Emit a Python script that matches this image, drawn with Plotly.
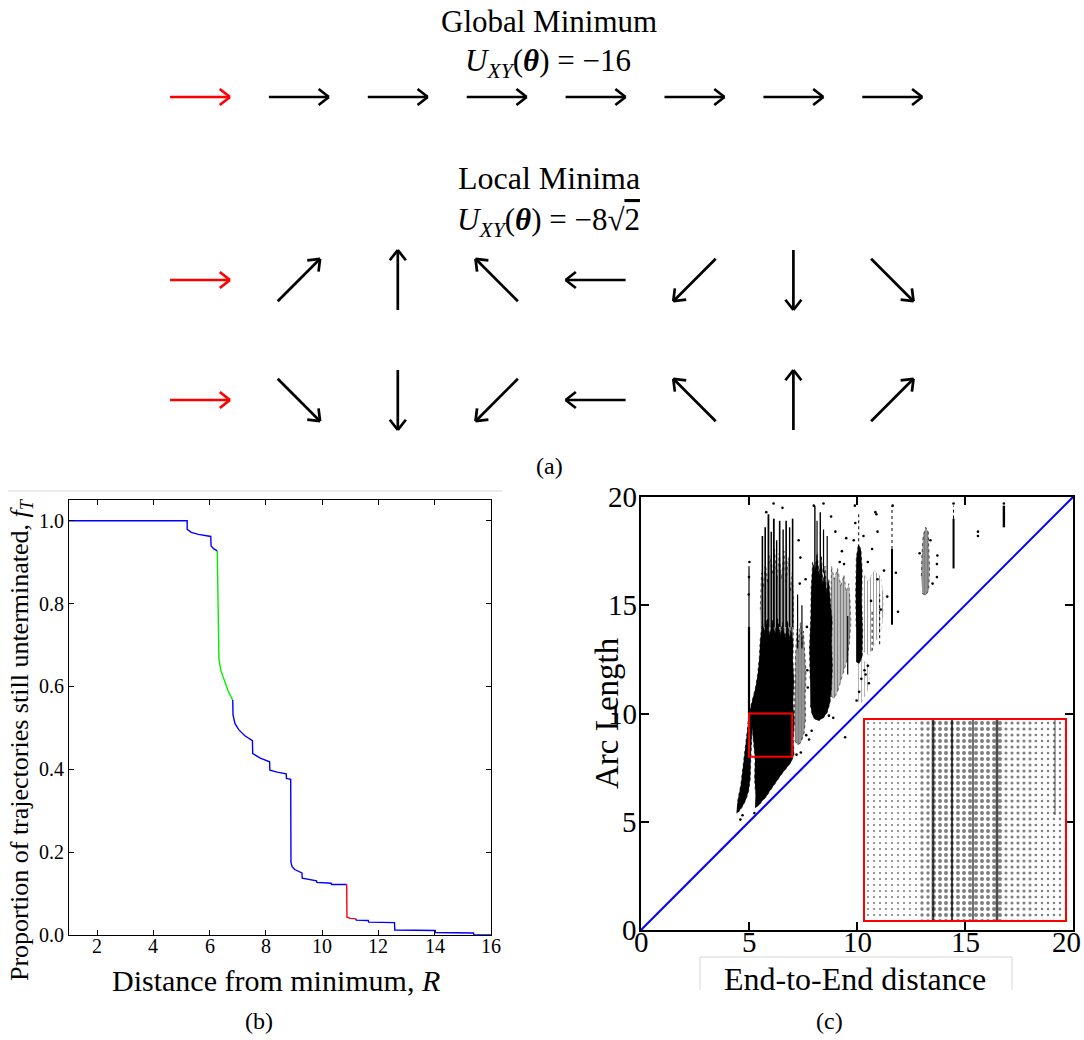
import numpy as np
import plotly.graph_objects as go

W, H = 1084, 1040
SERIF = "Liberation Serif"

# ---------------- (a) XY-model spin configurations (angles in degrees)
spins_global = [0, 0, 0, 0, 0, 0, 0, 0]
spins_local_a = [0, 45, 90, 135, 180, 225, 270, 315]
spins_local_b = [0, -45, -90, -135, 180, 135, 90, 45]
energy_global = "−16"
energy_local = "−8√2"

# ---------------- (b) proportion of trajectories still unterminated, f_T(R)
r_blue1 = [1.0, 5.20, 5.20, 5.35, 5.60, 6.04, 6.05, 6.15, 6.27]
f_blue1 = [1.0, 1.0, 0.979, 0.972, 0.967, 0.962, 0.939, 0.932, 0.927]
r_green = [6.27, 6.29, 6.30, 6.33, 6.40, 6.51, 6.65, 6.82]
f_green = [0.927, 0.80, 0.70, 0.665, 0.638, 0.615, 0.59, 0.567]
r_blue2 = [6.82, 6.83, 6.90, 7.04, 7.25, 7.52, 7.53, 7.80, 8.13, 8.14, 8.40,
           8.72, 8.73, 8.88, 8.89, 8.93, 9.02, 9.15, 9.28, 9.29, 9.80, 9.81,
           10.32, 10.33, 10.87]
f_blue2 = [0.567, 0.531, 0.51, 0.495, 0.481, 0.469, 0.438, 0.427, 0.418, 0.398,
           0.393, 0.389, 0.378, 0.376, 0.175, 0.165, 0.158, 0.153, 0.150, 0.137,
           0.131, 0.127, 0.125, 0.122, 0.122]
r_red = [10.87, 10.88, 11.0, 11.20]
f_red = [0.122, 0.043, 0.040, 0.039]
r_blue3 = [11.20, 11.21, 11.64, 11.65, 12.57, 12.58, 14.02, 14.03, 15.38, 15.39, 16.0]
f_blue3 = [0.039, 0.036, 0.035, 0.031, 0.030, 0.012, 0.011, 0.006, 0.005, 0.0, 0.0]
b_xticks = [2, 4, 6, 8, 10, 12, 14, 16]
b_yticks = [0.0, 0.2, 0.4, 0.6, 0.8, 1.0]

# ---------------- (c) arc length vs end-to-end distance
# outlines of the dense parts of the point cloud, with their point density
cloud_main_x = [5.28, 5.45, 5.60, 5.80, 5.95, 6.15, 6.35, 6.55, 6.75, 6.95, 7.08, 7.05, 7.10,
                7.04, 7.08, 7.03, 7.05, 6.95, 6.88, 6.78, 6.68, 6.55, 6.45, 6.32, 6.20,
                6.08, 5.95, 5.85, 5.72, 5.62, 5.52, 5.48, 5.40, 5.30, 5.15, 5.05, 5.15,
                5.22, 5.28, 5.26, 5.30]
cloud_main_y = [5.65, 5.75, 5.95, 6.15, 6.40, 6.70, 6.95, 7.25, 7.50, 7.75, 8.10, 8.8, 9.6,
                10.5, 11.5, 12.5, 13.2, 14.0, 13.4, 14.3, 13.5, 14.2, 13.6, 14.4, 13.7,
                14.3, 13.6, 14.4, 13.8, 14.2, 13.4, 12.6, 11.8, 11.2, 10.6, 10.2, 9.3,
                8.6, 7.9, 7.0, 6.3]
cloud_lobe_x = [4.42, 4.55, 4.70, 4.85, 4.98, 5.06, 5.08, 5.12, 5.15, 5.05, 4.98, 4.92,
                4.85, 4.78, 4.70, 4.62, 4.52, 4.45]
cloud_lobe_y = [5.40, 5.50, 5.70, 6.00, 6.40, 7.00, 7.80, 8.60, 9.40, 10.2, 9.9, 9.2,
                8.6, 7.9, 7.3, 6.7, 6.2, 5.8]
cloud_upper_x = [5.55, 7.05, 7.06, 7.00, 6.92, 6.82, 6.72, 6.62, 6.50, 6.40, 6.30, 6.18,
                 6.08, 5.96, 5.86, 5.76, 5.66, 5.58, 5.52]
cloud_upper_y = [13.5, 13.2, 15.2, 16.5, 15.6, 17.2, 16.0, 17.5, 16.2, 17.4, 16.1, 17.6,
                 16.4, 17.3, 16.0, 17.0, 15.8, 16.5, 14.8]
cloud_2_x = [7.12, 7.25, 7.40, 7.55, 7.62, 7.60, 7.64, 7.58, 7.52, 7.45, 7.38, 7.30, 7.22,
             7.15, 7.13, 7.10]
cloud_2_y = [8.75, 8.55, 8.65, 9.10, 9.80, 10.8, 11.8, 12.8, 13.8, 13.2, 14.2, 13.3, 13.9,
             12.6, 11.2, 9.8]
cloud_3_x = [7.84, 7.92, 8.05, 8.25, 8.45, 8.62, 8.75, 8.82, 8.86, 8.82, 8.85, 8.76, 8.70,
             8.58, 8.52, 8.42, 8.35, 8.25, 8.15, 8.05, 7.95, 7.88, 7.86, 7.80, 7.83]
cloud_3_y = [10.4, 9.95, 9.72, 9.68, 9.80, 10.05, 10.5, 11.2, 12.2, 13.3, 14.3, 15.2, 16.2,
             15.6, 16.8, 16.0, 17.3, 16.4, 17.4, 16.6, 17.0, 15.8, 14.5, 13.0, 11.5]
cloud_3b_x = [8.80, 8.95, 9.10, 9.25, 9.40, 9.55, 9.65, 9.72, 9.68, 9.62, 9.50, 9.40, 9.25,
              9.10, 8.95, 8.82, 8.78]
cloud_3b_y = [10.8, 10.7, 11.0, 11.5, 11.9, 12.5, 13.3, 14.2, 15.2, 16.0, 15.6, 16.4, 15.9,
              16.7, 16.2, 16.8, 15.0]
cloud_4_x = [9.96, 10.10, 10.24, 10.26, 10.22, 10.24, 10.18, 10.06, 9.97, 9.94, 9.96]
cloud_4_y = [12.4, 12.3, 12.6, 13.8, 15.2, 16.6, 17.6, 17.8, 17.2, 15.5, 14.0]
cloud_4b_x = [10.25, 10.55, 10.85, 11.15, 11.25, 11.10, 10.80, 10.50, 10.28]
cloud_4b_y = [12.9, 12.7, 13.3, 14.0, 15.2, 16.3, 16.6, 16.1, 16.5]
cloud_4c_x = [9.95, 10.20, 10.55, 10.60, 10.25, 9.98]
cloud_4c_y = [10.6, 10.5, 11.2, 12.2, 12.5, 12.2]
cloud_5_x = [13.02, 13.18, 13.32, 13.36, 13.33, 13.30, 13.18, 13.06, 13.00, 12.98]
cloud_5_y = [15.55, 15.45, 15.7, 16.6, 17.5, 18.4, 18.6, 18.2, 17.2, 16.3]
# (outline x, outline y, point density); dense parts are solid, the rest streaky
clouds = [(cloud_lobe_x, cloud_lobe_y, 1.0), (cloud_main_x, cloud_main_y, 1.0),
          (cloud_upper_x, cloud_upper_y, 0.8), (cloud_2_x, cloud_2_y, 0.9),
          (cloud_3_x, cloud_3_y, 1.0), (cloud_3b_x, cloud_3b_y, 0.7),
          (cloud_4_x, cloud_4_y, 1.0), (cloud_4b_x, cloud_4b_y, 0.25),
          (cloud_4c_x, cloud_4c_y, 0.2), (cloud_5_x, cloud_5_y, 0.9)]

# vertical streaks of points: x, lowest and highest arc length
streak_x = [5.00, 5.00, 5.62, 5.75, 5.90, 6.03, 6.15, 6.28, 6.42, 6.58, 6.72, 6.88, 7.02,
            7.25, 7.45, 8.05, 8.15, 8.30, 8.45, 8.62, 9.57, 10.08, 10.70, 11.05,
            11.62, 11.62, 14.47, 14.47, 16.80]
streak_lo = [10.0, 14.0, 14.0, 14.0, 14.0, 14.0, 14.0, 14.0, 14.0, 14.0, 14.0, 14.0, 14.0,
             13.0, 13.0, 16.5, 16.5, 16.5, 16.5, 15.5, 11.8, 17.4, 12.9, 13.2,
             14.1, 17.6, 16.7, 19.0, 18.6]
streak_hi = [14.0, 16.8, 18.2, 18.6, 19.2, 18.4, 19.0, 18.0, 18.9, 18.5, 18.9, 18.6, 19.0,
             15.5, 15.0, 19.6, 18.9, 19.3, 18.5, 18.2, 14.5, 19.3, 14.8, 15.5,
             17.6, 19.6, 19.0, 19.6, 19.6]
streak_w = [2.2, 1.2, 1.6, 1.6, 1.8, 1.4, 1.8, 1.4, 1.6, 1.4, 1.6, 1.4, 1.6,
            1.2, 1.2, 1.4, 1.2, 1.4, 1.2, 1.2, 1.2, 1.0, 1.0, 1.0,
            2.0, 1.0, 2.0, 1.0, 2.4]

# isolated points
stray_x = [5.02, 5.00, 4.99, 6.14, 6.55, 5.80, 7.35, 7.38, 7.30, 7.62, 7.68, 7.70, 7.72,
           7.40, 7.65, 8.00, 8.45, 8.80, 9.00, 9.30, 9.50, 9.90, 9.92, 10.30, 10.50,
           10.90, 10.95, 11.25, 11.40, 11.80, 11.65, 10.20, 10.10, 9.98, 10.40, 10.50,
           10.55, 9.45, 8.90, 7.78, 13.70, 13.70, 13.72, 13.50, 12.90, 13.40, 14.47,
           16.80, 15.60, 15.60, 10.85, 10.95, 10.70, 11.90, 9.20, 9.40, 9.85, 10.65,
           11.10, 10.35, 4.60, 4.50, 4.70, 5.25, 7.20, 7.90, 8.70]
stray_y = [17.0, 16.3, 15.5, 19.7, 19.5, 19.3, 16.0, 17.2, 18.0, 16.2, 14.0, 12.0, 11.2,
           8.2, 9.0, 19.6, 19.7, 19.1, 18.4, 17.5, 18.1, 19.6, 18.8, 18.2, 17.0,
           19.2, 16.2, 16.6, 15.4, 16.5, 19.6, 11.6, 11.0, 10.6, 11.8, 12.2,
           11.4, 8.9, 9.8, 8.8, 16.3, 16.9, 17.3, 16.0, 17.4, 18.0, 19.7,
           19.7, 18.2, 18.4, 19.3, 18.4, 17.6, 14.7, 17.0, 16.9, 18.0, 15.2,
           14.8, 12.0, 5.1, 5.5, 5.3, 5.4, 8.1, 9.2, 9.9]

zoom_window = (5.0, 7.0, 8.0, 10.0)
# magnified window: density bands and dense vertical lines
inset_band_lo = [5.00, 5.55, 5.65, 6.37, 6.70]
inset_band_hi = [5.55, 5.65, 6.37, 6.70, 7.00]
inset_band_density = [0.10, 0.25, 0.35, 0.22, 0.14]
inset_line_x = [5.68, 5.87, 6.08, 6.32, 6.90]
inset_line_lo = [8.0, 8.0, 8.0, 8.0, 9.05]
inset_line_hi = [10.0, 10.0, 10.0, 10.0, 10.0]
inset_line_w = [2.6, 2.0, 1.6, 2.6, 1.0]
c_ticks = [0, 5, 10, 15, 20]

fig = go.Figure()

# ---------------- (a) arrows on a pixel-like canvas
L, HEAD, BARB = 60.0, 13.0, np.deg2rad(38)
row_y = [97.0, 280.0, 400.0]
col_x0, col_dx = 200.0, 98.9


def arrow_paths(angles, cy, first_only):
    xs, ys = [], []
    for i, a in enumerate(angles):
        if (i == 0) != first_only:
            continue
        cx = col_x0 + col_dx * i
        t = np.deg2rad(a)
        ux, uy = np.cos(t), -np.sin(t)
        tx, ty = cx + L / 2 * ux, cy + L / 2 * uy
        xs += [cx - L / 2 * ux, tx, None]
        ys += [cy - L / 2 * uy, ty, None]
        for s in (1, -1):
            bx = ux * np.cos(s * BARB) - uy * np.sin(s * BARB)
            by = ux * np.sin(s * BARB) + uy * np.cos(s * BARB)
            xs += [tx - HEAD * bx, tx, None]
            ys += [ty - HEAD * by, ty, None]
    return xs, ys


for angles, cy in zip([spins_global, spins_local_a, spins_local_b], row_y):
    for first, col in ((True, "#ff0000"), (False, "black")):
        ax_, ay_ = arrow_paths(angles, cy, first)
        fig.add_trace(go.Scatter(x=ax_, y=ay_, mode="lines", xaxis="x4", yaxis="y4",
                                 line=dict(color=col, width=2.7), hoverinfo="skip"))

# ---------------- (b)
for rx, fy, col in ((r_blue1, f_blue1, "#0000ff"), (r_green, f_green, "#00ee00"),
                    (r_blue2, f_blue2, "#0000ff"), (r_red, f_red, "#ff0000"),
                    (r_blue3, f_blue3, "#0000ff")):
    fig.add_trace(go.Scatter(x=rx, y=fy, mode="lines", xaxis="x", yaxis="y",
                             line=dict(color=col, width=1.4), hoverinfo="skip"))

# ---------------- (c) main panel
for cx_, cy_, dens in clouds:
    if dens >= 1.0:
        fig.add_trace(go.Scatter(x=cx_, y=cy_, mode="lines", fill="toself",
                                 fillcolor="black", xaxis="x2", yaxis="y2",
                                 line=dict(width=1.0, color="rgba(0,0,0,0.7)", dash="dot"),
                                 hoverinfo="skip"))
    else:
        fig.add_trace(go.Scatter(x=cx_, y=cy_, mode="lines", fill="toself",
                                 fillcolor=f"rgba(0,0,0,{dens * 0.5:.2f})",
                                 fillpattern=dict(shape="|", fgcolor="black", bgcolor="rgba(0,0,0,0)",
                                                  size=3, solidity=dens),
                                 xaxis="x2", yaxis="y2",
                                 line=dict(width=1.0, color=f"rgba(0,0,0,{dens * 0.7:.2f})", dash="dot"),
                                 hoverinfo="skip"))
for sx, lo, hi, w in zip(streak_x, streak_lo, streak_hi, streak_w):
    fig.add_trace(go.Scatter(x=[sx, sx], y=[lo, hi], mode="lines", xaxis="x2", yaxis="y2",
                             line=dict(color="black", width=w, dash="dot" if w <= 1.0 else "solid"),
                             hoverinfo="skip"))
fig.add_trace(go.Scatter(x=stray_x, y=stray_y, mode="markers", xaxis="x2", yaxis="y2",
                         marker=dict(color="black", size=2.6), hoverinfo="skip"))
fig.add_trace(go.Scatter(x=[c_ticks[0], c_ticks[-1]], y=[c_ticks[0], c_ticks[-1]],
                         mode="lines", xaxis="x2", yaxis="y2",
                         line=dict(color="#0000ff", width=2), hoverinfo="skip"))

# ---------------- (c) magnified window
x0w, x1w, y0w, y1w = zoom_window
fig.add_trace(go.Bar(
    x=[(lo + hi) / 2 for lo, hi in zip(inset_band_lo, inset_band_hi)],
    y=[y1w - y0w] * len(inset_band_lo), base=y0w,
    width=[hi - lo for lo, hi in zip(inset_band_lo, inset_band_hi)],
    xaxis="x3", yaxis="y3", hoverinfo="skip",
    marker=dict(color="white", line=dict(width=0),
                pattern=dict(shape=".", fgcolor="black", bgcolor="white",
                             size=6, solidity=inset_band_density))))
for lx, lo, hi, w in zip(inset_line_x, inset_line_lo, inset_line_hi, inset_line_w):
    fig.add_trace(go.Scatter(x=[lx, lx], y=[lo, hi], mode="lines", xaxis="x3", yaxis="y3",
                             line=dict(color="rgba(0,0,0,0.7)", width=w),
                             hoverinfo="skip"))


def px(v):
    return v / W


def py(v):
    return 1 - v / H


axis_common = dict(showgrid=False, zeroline=False, showline=True, linecolor="black",
                   mirror="ticks", ticks="inside", tickcolor="black", automargin=False)
hidden = dict(visible=False, automargin=False)

C_L, C_R, C_T, C_B = 641.0, 1073.0, 497.0, 930.0
inset_x = (10.37, 19.63)
inset_y = (0.46, 9.70)

fig.update_layout(
    width=W, height=H, margin=dict(l=0, r=0, t=0, b=0, pad=0, autoexpand=False),
    paper_bgcolor="white", plot_bgcolor="white", showlegend=False, hovermode=False,
    barmode="overlay",
    font=dict(family=SERIF, color="black"),
    xaxis=dict(domain=[px(69), px(491)], range=[1, 16], tickvals=b_xticks,
               showticklabels=False, ticklen=5, linewidth=1.2, tickwidth=1, anchor="y",
               **axis_common),
    yaxis=dict(domain=[py(935), py(500)], range=[0, 1.05], tickvals=b_yticks,
               ticktext=[f"{v:.1f}" for v in b_yticks], ticklen=5, linewidth=1.2,
               tickwidth=1, tickfont=dict(size=20), anchor="x", **axis_common),
    xaxis2=dict(domain=[px(C_L), px(C_R)], range=[0, 20], tickvals=c_ticks,
                showticklabels=False, ticklen=8, linewidth=2, tickwidth=1.5,
                anchor="y2", **axis_common),
    yaxis2=dict(domain=[py(C_B), py(C_T)], range=[0, 20], tickvals=c_ticks,
                showticklabels=False, ticklen=8, linewidth=2, tickwidth=1.5,
                anchor="x2", **axis_common),
    xaxis3=dict(domain=[px(C_L + inset_x[0] / 20 * (C_R - C_L)), px(C_L + inset_x[1] / 20 * (C_R - C_L))],
                range=[x0w, x1w], showticklabels=False, automargin=False,
                ticks="", showgrid=False, zeroline=False, showline=True, mirror=True,
                linecolor="#ff0000", linewidth=2, anchor="y3"),
    yaxis3=dict(domain=[py(C_B - inset_y[0] / 20 * (C_B - C_T)), py(C_B - inset_y[1] / 20 * (C_B - C_T))],
                range=[y0w, y1w], showticklabels=False, automargin=False,
                ticks="", showgrid=False, zeroline=False, showline=True, mirror=True,
                linecolor="#ff0000", linewidth=2, anchor="x3"),
    xaxis4=dict(domain=[0, 1], range=[0, W], anchor="y4", **hidden),
    yaxis4=dict(domain=[py(480), 1], range=[480, 0], anchor="x4", **hidden),
)

fig.add_shape(type="rect", xref="x2", yref="y2", x0=x0w, x1=x1w, y0=y0w, y1=y1w,
              line=dict(color="#ff0000", width=2))
# faint frame lines of the panels
fig.add_shape(type="line", xref="paper", yref="paper", x0=px(8), x1=px(502),
              y0=py(491), y1=py(491), line=dict(color="#d6d6d6", width=1))
fig.add_shape(type="path", xref="paper", yref="paper",
              path=f"M {px(700)},{py(990)} L {px(700)},{py(957)} L {px(1012)},{py(957)} L {px(1012)},{py(990)}",
              line=dict(color="#d6d6d6", width=1))

# x tick labels of panel (b)
for v in b_xticks:
    fig.add_annotation(text=str(v), x=v, xref="x", y=py(946), yref="paper",
                       showarrow=False, xanchor="center", yanchor="middle",
                       font=dict(family=SERIF, size=20, color="black"))

# tick labels of panel (c), set tight against the frame
for v in c_ticks:
    last = v == c_ticks[-1]
    fig.add_annotation(text=str(v), x=v, xref="x2", y=py(942), yref="paper",
                       showarrow=False, xanchor="right" if last else "center",
                       xshift=10 if last else 0, yanchor="middle",
                       font=dict(family=SERIF, size=29, color="black"))
    fig.add_annotation(text=str(v), x=px(C_L - 2), xref="paper", y=v, yref="y2",
                       showarrow=False, xanchor="right", yanchor="middle",
                       font=dict(family=SERIF, size=29, color="black"))


def label(text, x, y, size, angle=0):
    fig.add_annotation(text=text, x=px(x), y=py(y), xref="paper", yref="paper",
                       showarrow=False, textangle=angle, xanchor="center", yanchor="middle",
                       font=dict(family=SERIF, size=size, color="black"))


theta = "<i>U</i><sub><i>XY</i></sub>(<b><i>θ</i></b>) = "
label("Global Minimum", 549, 21, 31)
label(theta + energy_global, 548, 63, 31)
label("Local Minima", 549, 178, 32)
label(theta + energy_local.replace("√2", "√<span style='text-decoration:overline'>2</span>"),
      548, 222, 31)
label("(a)", 549, 466, 24)

label("Proportion of trajectories still unterminated, <i>f</i><sub><i>T</i></sub>",
      21, 740, 26, -90)
label("Distance from minimum, <i>R</i>", 276, 980, 30)
label("(b)", 259, 1021, 24)

label("Arc Length", 607, 713, 33, -90)
label("End-to-End distance", 855, 979, 32)
label("(c)", 829, 1021, 24)

fig.write_html("out.html")
